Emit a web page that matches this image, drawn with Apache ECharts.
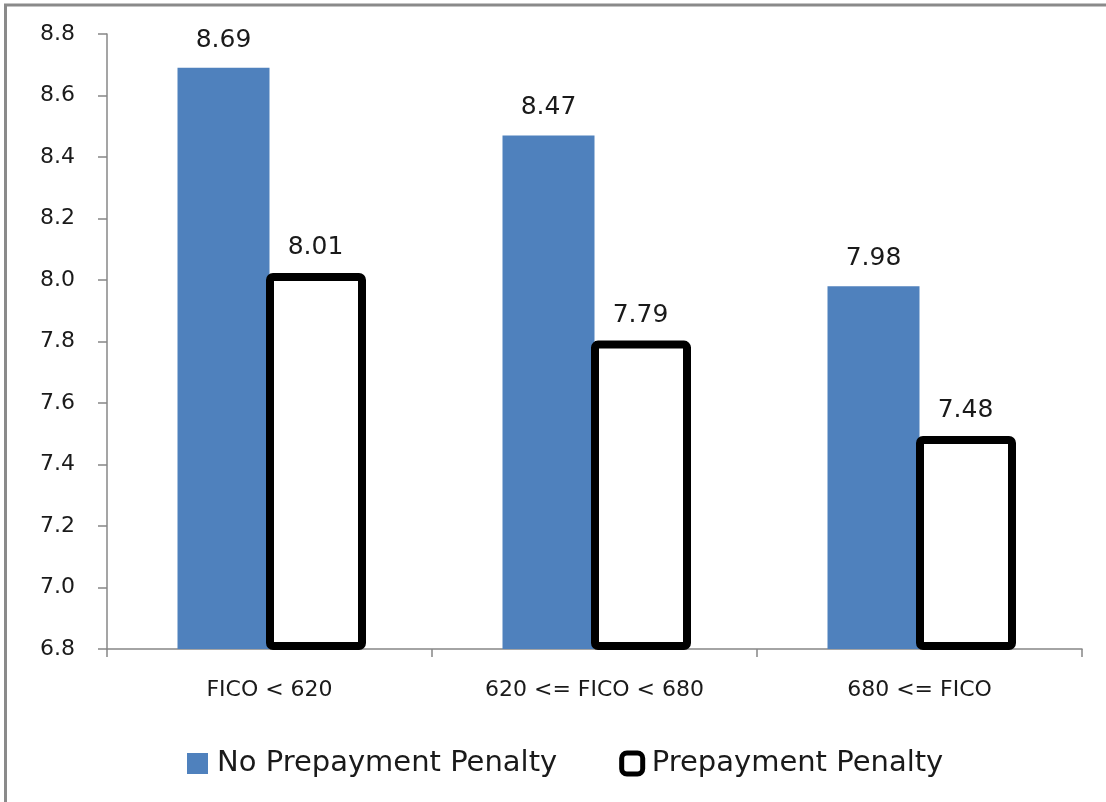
<!DOCTYPE html>
<html>
<head>
<meta charset="utf-8">
<script src="https://cdn.jsdelivr.net/npm/echarts@6/dist/echarts.min.js"></script>
<style>
html,body{margin:0;padding:0;background:#fff;}
#chart{width:1106px;height:802px;}
</style>
</head>
<body>
<div id="chart"></div>
<script>
const categories = ['FICO < 620', '620 <= FICO < 680', '680 <= FICO'];
const noPenalty = [8.69, 8.47, 7.98];
const withPenalty = [8.01, 7.79, 7.48];
const seriesNames = ['No Prepayment Penalty', 'Prepayment Penalty'];
const yTicks = {min: 6.8, max: 8.8, step: 0.2};

const chart = echarts.init(document.getElementById('chart'), null, {renderer: 'canvas'});
const FONT = 'DejaVu Sans';
const TXT = '#1a1a1a';
const AX = '#878787';
const BAR_W = 92;

chart.setOption({
  animation: false,
  backgroundColor: '#fff',
  grid: {left: 107, right: 24, top: 34, bottom: 153, containLabel: false},
  graphic: [
    {type: 'line', shape: {x1: 4, y1: 5, x2: 1106, y2: 5}, style: {stroke: '#8a8a8a', lineWidth: 3}},
    {type: 'line', shape: {x1: 5.5, y1: 4, x2: 5.5, y2: 802}, style: {stroke: '#8a8a8a', lineWidth: 3}}
  ],
  legend: {
    bottom: 19,
    left: 182,
    itemWidth: 21,
    itemHeight: 21,
    itemGap: 62,
    textStyle: {fontFamily: FONT, fontSize: 29, color: TXT, padding: [0, 0, 0, 4]},
    data: [
      {name: seriesNames[0], icon: 'rect', itemStyle: {color: '#4f81bd', borderWidth: 0}},
      {name: seriesNames[1], icon: 'roundRect', itemStyle: {color: '#fff', borderColor: '#000', borderWidth: 5}}
    ]
  },
  xAxis: {
    type: 'category',
    data: categories,
    axisLine: {lineStyle: {color: AX, width: 1.5}},
    axisTick: {show: true, length: 8, lineStyle: {color: AX, width: 1.5}},
    axisLabel: {fontFamily: FONT, fontSize: 22, color: TXT, margin: 30}
  },
  yAxis: {
    type: 'value',
    min: yTicks.min,
    max: yTicks.max,
    interval: yTicks.step,
    splitLine: {show: false},
    axisLine: {show: true, lineStyle: {color: AX, width: 1.5}},
    axisTick: {show: true, length: 9, lineStyle: {color: AX, width: 1.5}},
    axisLabel: {fontFamily: FONT, fontSize: 22, color: TXT, margin: 32,
      formatter: v => v.toFixed(1)}
  },
  series: [
    {
      name: seriesNames[0],
      type: 'bar',
      data: noPenalty,
      barWidth: BAR_W,
      barGap: '0%',
      itemStyle: {color: '#4f81bd'},
      label: {show: true, position: 'top', distance: 15, fontFamily: FONT, fontSize: 25, color: TXT,
        formatter: p => p.value.toFixed(2)}
    },
    {
      name: seriesNames[1],
      type: 'bar',
      data: withPenalty,
      barWidth: BAR_W,
      barGap: '0%',
      itemStyle: {color: '#fff'},
      label: {show: true, position: 'top', distance: 17, fontFamily: FONT, fontSize: 25, color: TXT,
        formatter: p => p.value.toFixed(2)}
    },
    {
      name: seriesNames[1],
      type: 'custom',
      z: 4,
      silent: true,
      data: withPenalty.map((v, i) => [i, v]),
      encode: {x: 0, y: 1},
      renderItem: function (params, api) {
        const top = api.coord([api.value(0), api.value(1)]);
        const base = api.coord([api.value(0), yTicks.min]);
        return {
          type: 'rect',
          shape: {x: top[0] + 0.5, y: top[1], width: BAR_W, height: base[1] - top[1] - 3, r: 3},
          style: {fill: 'none', stroke: '#000', lineWidth: 8, lineJoin: 'round'}
        };
      }
    }
  ]
});
</script>
</body>
</html>
